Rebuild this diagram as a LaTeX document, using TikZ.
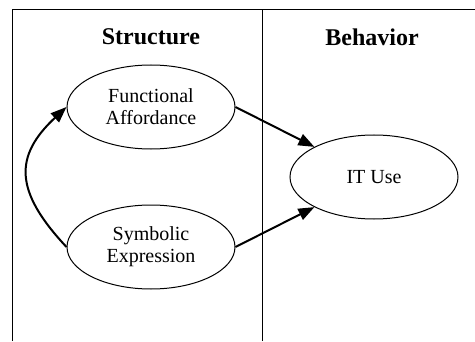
\documentclass[tikz,border=0pt]{standalone}
\usepackage{fontspec}
\setmainfont{Liberation Serif}
\usetikzlibrary{shapes.geometric,arrows.meta}
\begin{document}
\begin{tikzpicture}[x=1pt,y=1pt,
    construct/.style={ellipse,draw,line width=1pt,minimum width=168pt,minimum height=84pt,inner sep=0pt,align=center,font=\fontsize{20}{22}\selectfont},
    heading/.style={font=\fontsize{24}{28}\selectfont\bfseries},
    link/.style={line width=2pt,-{Triangle[length=16pt,width=12pt]}}]
    \useasboundingbox (0,0) rectangle (475,341);

    \draw[line width=1pt] (12,0) -- (12,331) -- (475,331);
    \draw[line width=1pt] (262,0) -- (262,331);

    \node[heading] (structure) at (151,304) {Structure};
    \node[heading] (behavior) at (372,304) {Behavior};

    \node[construct] (fa) at (151,234) {Functional\\Affordance};
    \node[construct] (se) at (151,94) {Symbolic\\Expression};
    \node[construct] (use) at (374,164) {IT Use};

    \draw[link] (fa.east) -- (use);
    \draw[link] (se.east) -- (use);
    \draw[link] (se.west) .. controls (14,150) and (14,185) .. (fa.west);
  \end{tikzpicture}
\end{document}
